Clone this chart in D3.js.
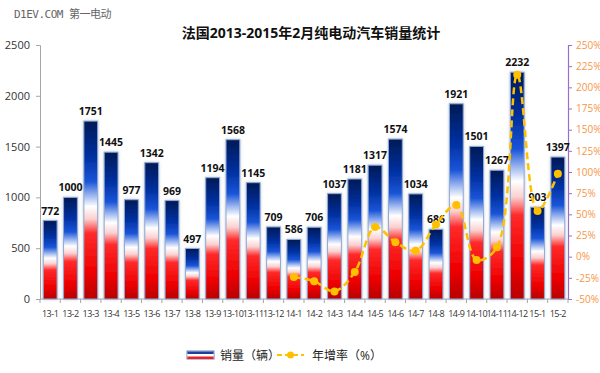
<!DOCTYPE html>
<html>
<head>
<meta charset="utf-8">
<script src="https://cdn.jsdelivr.net/npm/d3@7"></script>
<style>
  body { margin: 0; background: #fff; }
  #chart { width: 600px; height: 373px; }
  text { font-family: "Open Sans", "Noto Sans CJK SC", sans-serif; }
</style>
</head>
<body>
<div id="chart"></div>
<script>
// data
const months = ['13-1', '13-2', '13-3', '13-4', '13-5', '13-6', '13-7', '13-8', '13-9', '13-10', '13-11', '13-12',
    '14-1', '14-2', '14-3', '14-4', '14-5', '14-6', '14-7', '14-8', '14-9', '14-10', '14-11', '14-12', '15-1', '15-2'];
const sales = [772, 1000, 1751, 1445, 977, 1342, 969, 497, 1194, 1568, 1145, 709,
    586, 706, 1037, 1181, 1317, 1574, 1034, 686, 1921, 1501, 1267, 2232, 903, 1397];
const growthMonths = ['14-1', '14-2', '14-3', '14-4', '14-5', '14-6', '14-7', '14-8', '14-9', '14-10', '14-11', '14-12', '15-1', '15-2'];
const growth = [-24, -29, -41, -18, 35, 17, 7, 38, 61, -4, 11, 215, 54, 98];
const leftTicks = [0, 500, 1000, 1500, 2000, 2500];
const rightTicks = [-50, -25, 0, 25, 50, 75, 100, 125, 150, 175, 200, 225, 250];

const svg = d3.select("#chart")
    .append("svg")
    .attr("width", 600)
    .attr("height", 373);

const margin = { top: 45, right: 32, bottom: 74, left: 40 };
const width = 600 - margin.left - margin.right;
const height = 373 - margin.top - margin.bottom;

// gradient for bars (per bar, bounding box)
const defs = svg.append("defs");
const grad = defs.append("linearGradient")
    .attr("id", "flag")
    .attr("x1", 0).attr("y1", 0).attr("x2", 0).attr("y2", 1);
[[0, "#001a55"], [0.2, "#0030a0"], [0.34, "#1a55d8"], [0.42, "#9fb8f0"], [0.48, "#ffffff"],
 [0.55, "#fbd0d0"], [0.63, "#ff2a2a"], [0.85, "#ee0000"], [1, "#b80000"]]
    .forEach(s => grad.append("stop").attr("offset", s[0]).attr("stop-color", s[1]));

const glow = defs.append("filter").attr("id", "glow")
    .attr("x", "-40%").attr("y", "-10%").attr("width", "180%").attr("height", "120%");
glow.append("feGaussianBlur").attr("in", "SourceAlpha").attr("stdDeviation", 1.5).attr("result", "b");
glow.append("feFlood").attr("flood-color", "#9aa6b8").attr("flood-opacity", 0.6);
glow.append("feComposite").attr("in2", "b").attr("operator", "in");
const fm = glow.append("feMerge");
fm.append("feMergeNode");
fm.append("feMergeNode").attr("in", "SourceGraphic");

// watermark
svg.append("text")
    .attr("x", 14).attr("y", 18)
    .attr("font-size", 11)
    .attr("fill", "#666")
    .style("font-family", "'DejaVu Sans Mono', 'Noto Sans CJK SC', monospace")
    .style("letter-spacing", "-0.5px")
    .text("D1EV.COM 第一电动");

// title
svg.append("text")
    .attr("x", 311).attr("y", 38)
    .attr("text-anchor", "middle")
    .attr("font-size", 14)
    .attr("font-weight", "bold")
    .attr("fill", "#111")
    .text("法国2013-2015年2月纯电动汽车销量统计");

const g = svg.append("g")
    .attr("transform", `translate(${margin.left},${margin.top})`);

const x = d3.scaleBand()
    .domain(months)
    .range([0, width])
    .paddingInner(0.32)
    .paddingOuter(0.16);

const y = d3.scaleLinear().domain([0, 2500]).range([height, 0]);
const y2 = d3.scaleLinear().domain([-50, 250]).range([height, 0]);

// left axis
const yAxis = g.append("g")
    .call(d3.axisLeft(y).tickValues(leftTicks).tickSize(4).tickPadding(6).tickFormat(d3.format("d")));
yAxis.select(".domain").attr("stroke", "#a6a6a6");
yAxis.selectAll(".tick line").attr("stroke", "#a6a6a6");
yAxis.selectAll(".tick text").attr("font-size", 11).attr("fill", "#333");

// right axis
const y2Axis = g.append("g")
    .attr("transform", `translate(${width},0)`)
    .call(d3.axisRight(y2).tickValues(rightTicks).tickSize(4).tickPadding(4).tickFormat(d => d + "%"));
y2Axis.select(".domain").attr("stroke", "#9b6fc7").attr("stroke-width", 1.2);
y2Axis.selectAll(".tick line").attr("stroke", "#9b6fc7");
y2Axis.selectAll(".tick text").attr("font-size", 10).attr("fill", "#f79646");

// x axis (ticks between categories)
const step = x.step();
const xAxis = g.append("g").attr("transform", `translate(0,${height})`);
xAxis.append("line")
    .attr("x1", 0).attr("x2", width)
    .attr("stroke", "#a6a6a6");
xAxis.selectAll(".xt")
    .data(d3.range(months.length + 1))
    .join("line")
    .attr("class", "xt")
    .attr("x1", i => x.range()[0] + i * step)
    .attr("x2", i => x.range()[0] + i * step)
    .attr("y1", 0).attr("y2", 4)
    .attr("stroke", "#a6a6a6");
xAxis.selectAll(".xl")
    .data(months)
    .join("text")
    .attr("class", "xl")
    .attr("x", d => x(d) + x.bandwidth() / 2)
    .attr("y", 18)
    .attr("text-anchor", "middle")
    .attr("font-size", 9)
    .attr("fill", "#333")
    .style("letter-spacing", "-0.5px")
    .text(d => d);

// bars
g.selectAll(".bar")
    .data(sales)
    .join("rect")
    .attr("class", "bar")
    .attr("x", (d, i) => x(months[i]))
    .attr("y", d => y(d))
    .attr("width", x.bandwidth())
    .attr("height", d => height - y(d))
    .attr("fill", "url(#flag)")
    .attr("stroke", "#8fa9d6")
    .attr("stroke-width", 1)
    .attr("filter", "url(#glow)");

// value labels
g.selectAll(".val")
    .data(sales)
    .join("text")
    .attr("class", "val")
    .attr("x", (d, i) => x(months[i]) + x.bandwidth() / 2)
    .attr("y", d => y(d) - 6)
    .attr("text-anchor", "middle")
    .attr("font-size", 10.5)
    .attr("font-weight", "bold")
    .attr("fill", "#111")
    .text(d => d);

// growth line
const pts = growth.map((v, i) => ({ m: growthMonths[i], v: v }));
const line = d3.line()
    .x(d => x(d.m) + x.bandwidth() / 2)
    .y(d => y2(d.v))
    .curve(d3.curveCatmullRom.alpha(0.5));

g.append("path")
    .datum(pts)
    .attr("fill", "none")
    .attr("stroke", "#ffc000")
    .attr("stroke-width", 2.5)
    .attr("stroke-dasharray", "7,4")
    .attr("d", line);

g.selectAll(".dot")
    .data(pts)
    .join("circle")
    .attr("class", "dot")
    .attr("cx", d => x(d.m) + x.bandwidth() / 2)
    .attr("cy", d => y2(d.v))
    .attr("r", 4)
    .attr("fill", "#ffc000");

// legend
const lg = svg.append("g").attr("transform", "translate(187,355)");
const sw = [["#1f3f9a", 0], ["#ffffff", 2.5], ["#ee2222", 5]];
lg.append("rect").attr("x", 0).attr("y", -4).attr("width", 27).attr("height", 8)
    .attr("fill", "#fff").attr("stroke", "#6b86c4");
sw.forEach(s => lg.append("rect").attr("x", 0.5).attr("y", -3.5 + s[1]).attr("width", 26).attr("height", 2.5).attr("fill", s[0]));
lg.append("text").attr("x", 33).attr("y", 4.5).attr("font-size", 12).attr("fill", "#222").text("销量（辆）");
lg.append("line").attr("x1", 90).attr("x2", 117).attr("y1", 0).attr("y2", 0)
    .attr("stroke", "#ffc000").attr("stroke-width", 2).attr("stroke-dasharray", "5,3");
lg.append("circle").attr("cx", 103.5).attr("cy", 0).attr("r", 3.5).attr("fill", "#ffc000");
lg.append("text").attr("x", 125).attr("y", 4.5).attr("font-size", 12).attr("fill", "#222").text("年增率（%）");
</script>
</body>
</html>
